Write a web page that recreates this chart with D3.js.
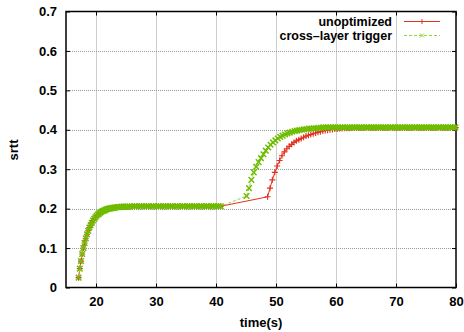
<!DOCTYPE html>
<html>
<head>
<meta charset="utf-8">
<script src="https://cdn.jsdelivr.net/npm/d3@7"></script>
<style>
  body { margin: 0; background: #fff; }
  svg { display: block; font-family: "Liberation Sans", Arial, sans-serif; font-weight: bold; }
</style>
</head>
<body>
<svg id="chart" width="464" height="332"></svg>
<script>
// rise + first plateau, identical for both runs
const sharedTime = [
  17.1, 17.3, 17.5, 17.7, 17.9, 18.1, 18.3, 18.5, 18.7, 18.9,
  19.1, 19.3, 19.5, 19.7, 19.9, 20.1, 20.3, 20.5, 20.7, 20.9,
  21.1, 21.3, 21.5, 21.7, 21.9, 22.1, 22.3, 22.5, 22.7, 22.9,
  23.1, 23.4, 23.7, 24.0, 24.3, 24.6, 24.9,
  25.2, 25.6, 26.0, 26.4, 26.8, 27.2, 27.6, 28.0, 28.4, 28.8,
  29.2, 29.6, 30.0, 30.4, 30.8, 31.2, 31.6, 32.0, 32.4, 32.8,
  33.2, 33.6, 34.0, 34.4, 34.8, 35.2, 35.6, 36.0, 36.4, 36.8,
  37.2, 37.6, 38.0, 38.4, 38.8, 39.2, 39.6, 40.0, 40.4, 40.8
]
const sharedSrtt = [
  0.025, 0.048, 0.067, 0.085, 0.100, 0.113, 0.125, 0.135, 0.144, 0.152,
  0.158, 0.164, 0.170, 0.174, 0.178, 0.182, 0.185, 0.187, 0.190, 0.192,
  0.194, 0.195, 0.196, 0.198, 0.199, 0.200, 0.200, 0.201, 0.202, 0.202,
  0.203, 0.203, 0.204, 0.204, 0.205, 0.205, 0.205,
  0.205, 0.205, 0.206, 0.206, 0.206, 0.206, 0.206, 0.206, 0.206, 0.206,
  0.206, 0.206, 0.206, 0.206, 0.206, 0.206, 0.206, 0.206, 0.206, 0.206,
  0.206, 0.206, 0.206, 0.206, 0.206, 0.206, 0.206, 0.206, 0.206, 0.206,
  0.206, 0.206, 0.206, 0.206, 0.206, 0.206, 0.206, 0.206, 0.206, 0.206
]

// unoptimized: second rise after the handover
const unoptTime = [
  48.6, 49.0, 49.4, 49.8, 50.2, 50.6, 51.0, 51.4, 51.8, 52.2,
  52.6, 53.0, 53.4, 53.8, 54.2, 54.6, 55.0, 55.4, 55.8, 56.2,
  56.6, 57.0, 57.4, 57.8, 58.2, 58.6, 59.0, 59.4, 59.8, 60.2,
  60.6, 61.0, 61.4, 61.8, 62.2, 62.6, 63.0,
  63.4, 63.8, 64.2, 64.6, 65.0, 65.4, 65.8, 66.2, 66.6, 67.0,
  67.4, 67.8, 68.2, 68.6, 69.0, 69.4, 69.8, 70.2, 70.6, 71.0,
  71.4, 71.8, 72.2, 72.6, 73.0, 73.4, 73.8, 74.2, 74.6, 75.0,
  75.4, 75.8, 76.2, 76.6, 77.0, 77.4, 77.8, 78.2, 78.6, 79.0,
  79.4, 79.8, 80.0
]
const unoptSrtt = [
  0.230, 0.252, 0.273, 0.292, 0.308, 0.322, 0.334, 0.344, 0.352, 0.358,
  0.363, 0.368, 0.372, 0.375, 0.378, 0.381, 0.384, 0.386, 0.388, 0.390,
  0.392, 0.394, 0.395, 0.397, 0.398, 0.399, 0.400, 0.401, 0.402, 0.402,
  0.403, 0.403, 0.404, 0.404, 0.404, 0.405, 0.405,
  0.405, 0.405, 0.405, 0.405, 0.405, 0.405, 0.405, 0.405, 0.405, 0.405,
  0.405, 0.405, 0.405, 0.405, 0.405, 0.405, 0.405, 0.405, 0.405, 0.405,
  0.405, 0.405, 0.405, 0.405, 0.405, 0.405, 0.405, 0.405, 0.405, 0.405,
  0.405, 0.405, 0.405, 0.405, 0.405, 0.405, 0.405, 0.405, 0.405, 0.405,
  0.405, 0.405, 0.405
]

// cross-layer trigger: second rise starts earlier
const crossTime = [
  45.1, 45.5, 45.9, 46.3, 46.7, 47.1, 47.5, 47.9, 48.3, 48.7,
  49.1, 49.5, 49.9, 50.3, 50.7, 51.1, 51.5, 51.9, 52.3, 52.7,
  53.1, 53.5, 53.9, 54.3, 54.7, 55.1, 55.5, 55.9, 56.3, 56.7,
  57.1, 57.5,
  57.9, 58.3, 58.7, 59.1, 59.5, 59.9, 60.3, 60.7, 61.1, 61.5,
  61.9, 62.3, 62.7, 63.1, 63.5, 63.9, 64.3, 64.7, 65.1, 65.5,
  65.9, 66.3, 66.7, 67.1, 67.5, 67.9, 68.3, 68.7, 69.1, 69.5,
  69.9, 70.3, 70.7, 71.1, 71.5, 71.9, 72.3, 72.7, 73.1, 73.5,
  73.9, 74.3, 74.7, 75.1, 75.5, 75.9, 76.3, 76.7, 77.1, 77.5,
  77.9, 78.3, 78.7, 79.1, 79.5, 79.9
]
const crossSrtt = [
  0.232, 0.252, 0.273, 0.292, 0.306, 0.318, 0.328, 0.338, 0.347, 0.355,
  0.362, 0.368, 0.373, 0.378, 0.382, 0.385, 0.388, 0.391, 0.393, 0.395,
  0.397, 0.398, 0.399, 0.400, 0.401, 0.402, 0.403, 0.403, 0.404, 0.404,
  0.405, 0.405,
  0.406, 0.406, 0.406, 0.406, 0.406, 0.406, 0.406, 0.406, 0.406, 0.406,
  0.406, 0.406, 0.406, 0.406, 0.406, 0.406, 0.406, 0.406, 0.406, 0.406,
  0.406, 0.406, 0.406, 0.406, 0.406, 0.406, 0.406, 0.406, 0.406, 0.406,
  0.406, 0.406, 0.406, 0.406, 0.406, 0.406, 0.406, 0.406, 0.406, 0.406,
  0.406, 0.406, 0.406, 0.406, 0.406, 0.406, 0.406, 0.406, 0.406, 0.406,
  0.406, 0.406, 0.406, 0.406, 0.406, 0.406
]

const xTicks = [20, 30, 40, 50, 60, 70, 80]
const yTicks = [0, 0.1, 0.2, 0.3, 0.4, 0.5, 0.6, 0.7]
const seriesNames = ['unoptimized', 'cross\u2013layer trigger']

const RED = '#e2311d'
const GREEN = '#6dbd00'
const GREEN_LINE = '#8fd43a'
const FONT_SIZE = 13

const zip = (ts, vs) => ts.slice(0, Math.min(ts.length, vs.length)).map((t, i) => ({ t, v: vs[i] }))
const shared = zip(sharedTime, sharedSrtt)
const unopt = shared.concat(zip(unoptTime, unoptSrtt))
const cross = shared.concat(zip(crossTime, crossSrtt))

const svg = d3.select('#chart')
const plotLeft = 66, plotRight = 456, plotTop = 11.5, plotBottom = 287.5

const x = d3.scaleLinear().domain([15, 80]).range([plotLeft, plotRight])
const y = d3.scaleLinear().domain([0, 0.7]).range([plotBottom, plotTop])

// grid
const grid = svg.append('g').attr('class', 'grid')
  .attr('stroke', '#9a9a9a').attr('stroke-width', 1).attr('stroke-dasharray', '1,1')
grid.selectAll('.gx').data(xTicks.filter(d => d < 80)).enter().append('line')
  .attr('x1', d => Math.round(x(d)) + 0.5).attr('x2', d => Math.round(x(d)) + 0.5)
  .attr('y1', plotTop).attr('y2', plotBottom)
grid.selectAll('.gy').data(yTicks.filter(d => d > 0 && d < 0.7)).enter().append('line')
  .attr('y1', d => Math.round(y(d)) + 0.5).attr('y2', d => Math.round(y(d)) + 0.5)
  .attr('x1', plotLeft).attr('x2', plotRight)

// axes
const fmtY = d => d === 0 ? '0' : d3.format('.1f')(d)
const styleAxis = g => {
  g.select('.domain').remove()
  g.selectAll('line').attr('stroke', '#000').attr('stroke-width', 1)
  g.selectAll('text').attr('font-size', FONT_SIZE).attr('font-weight', 'bold').attr('fill', '#000')
    .attr('font-family', '"Liberation Sans", Arial, sans-serif')
}
svg.append('g').attr('transform', `translate(${plotLeft},0)`)
  .call(d3.axisLeft(y).tickValues(yTicks).tickFormat(fmtY).tickSizeInner(-4).tickSizeOuter(0).tickPadding(9))
  .call(styleAxis)
svg.append('g').attr('transform', `translate(0,${plotBottom})`)
  .call(d3.axisBottom(x).tickValues(xTicks).tickFormat(d3.format('d')).tickSizeInner(-4).tickSizeOuter(0).tickPadding(9))
  .call(styleAxis)
svg.append('g').attr('transform', `translate(${plotRight},0)`)
  .call(d3.axisRight(y).tickValues(yTicks).tickFormat('').tickSizeInner(-4).tickSizeOuter(0))
  .call(styleAxis)
svg.append('g').attr('transform', `translate(0,${plotTop})`)
  .call(d3.axisTop(x).tickValues(xTicks).tickFormat('').tickSizeInner(-4).tickSizeOuter(0))
  .call(styleAxis)

// frame
svg.append('rect')
  .attr('x', plotLeft).attr('y', plotTop).attr('width', plotRight - plotLeft).attr('height', plotBottom - plotTop)
  .attr('fill', 'none').attr('stroke', '#000').attr('stroke-width', 1.5)

// axis titles
svg.append('text').attr('x', 261).attr('y', 327).attr('text-anchor', 'middle')
  .attr('font-size', FONT_SIZE).text('time(s)')
svg.append('text').attr('transform', `translate(18,150) rotate(-90)`).attr('text-anchor', 'middle')
  .attr('font-size', FONT_SIZE).text('srtt')

const line = d3.line().x(d => x(d.t)).y(d => y(d.v))
const plot = svg.append('g')

const plusPath = s => `M${-s},0H${s}M0,${-s}V${s}`
const crossPath = s => `M${-s},${-s}L${s},${s}M${-s},${s}L${s},${-s}`

// unoptimized
plot.append('path').datum(unopt).attr('d', line)
  .attr('fill', 'none').attr('stroke', RED).attr('stroke-width', 1)
plot.selectAll('.pu').data(unopt).enter().append('path')
  .attr('class', 'pu')
  .attr('transform', d => `translate(${x(d.t)},${y(d.v)})`)
  .attr('d', plusPath(3)).attr('stroke', RED).attr('stroke-width', 1.1).attr('fill', 'none')

// cross-layer trigger
plot.append('path').datum(cross).attr('d', line)
  .attr('fill', 'none').attr('stroke', GREEN_LINE).attr('stroke-width', 1).attr('stroke-dasharray', '3,2')
plot.selectAll('.pc').data(cross).enter().append('path')
  .attr('class', 'pc')
  .attr('transform', d => `translate(${x(d.t)},${y(d.v)})`)
  .attr('d', crossPath(2.8)).attr('stroke', GREEN).attr('stroke-width', 1.5).attr('fill', 'none')

// legend
const legend = svg.append('g')
const legendRows = [
  { name: seriesNames[0], color: RED, dash: null, marker: plusPath(2.5), y: 21.5 },
  { name: seriesNames[1], color: GREEN_LINE, dash: '3,2', marker: crossPath(2), y: 35.5 },
]
legendRows.forEach(r => {
  legend.append('text').attr('x', 392).attr('y', r.y + 4.5).attr('text-anchor', 'end')
    .attr('font-size', 12.5).text(r.name)
  legend.append('line').attr('x1', 404).attr('x2', 440).attr('y1', r.y).attr('y2', r.y)
    .attr('stroke', r.color).attr('stroke-width', 1).attr('stroke-dasharray', r.dash)
  legend.append('path').attr('transform', `translate(422,${r.y})`).attr('d', r.marker)
    .attr('stroke', r.color).attr('stroke-width', 1).attr('fill', 'none')
})
</script>
</body>
</html>
